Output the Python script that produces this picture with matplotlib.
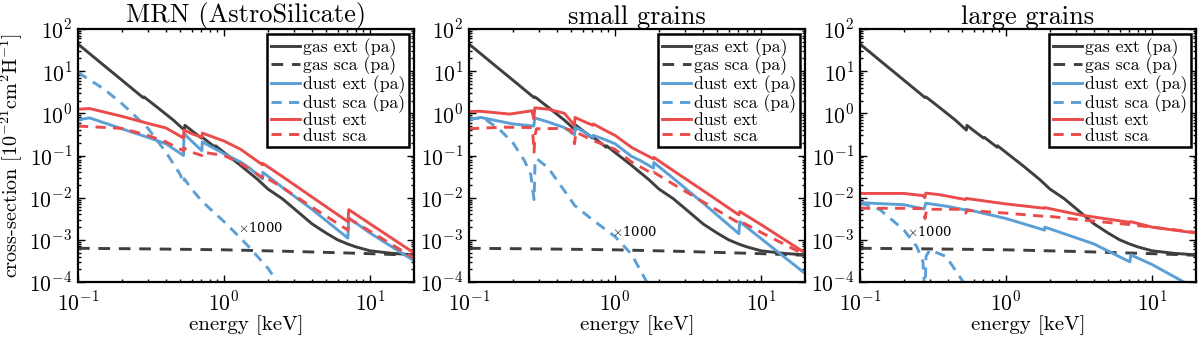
import math
import matplotlib
matplotlib.use("Agg")
import matplotlib.pyplot as plt
from matplotlib.ticker import LogLocator, FuncFormatter, NullFormatter

plt.rcParams['font.family'] = ['cmr10', 'DejaVu Serif']
plt.rcParams['mathtext.fontset'] = 'cm'
plt.rcParams['axes.unicode_minus'] = False
plt.rcParams['axes.formatter.use_mathtext'] = True

# ---------------- data ----------------
titles = ["MRN (AstroSilicate)", "small grains", "large grains"]
labels = ["gas ext (pa)", "gas sca (pa)", "dust ext (pa)", "dust sca (pa)", "dust ext", "dust sca"]

gas_ext_E = [0.1, 0.15, 0.2, 0.279, 0.283, 0.35, 0.45, 0.535, 0.54, 0.6, 0.7, 0.71, 0.8, 0.87, 0.875,
             1.0, 1.3, 1.7, 2.0, 2.5, 3.0, 4.0, 5.0, 6.0, 7.0, 8.0, 10.0, 14.0, 20.0]
gas_ext_V = [44, 13.8, 6.1, 2.36, 2.45, 1.38, 0.69, 0.40, 0.52, 0.39, 0.26, 0.27, 0.196, 0.157, 0.17,
             0.118, 0.058, 0.027, 0.016, 0.0095, 5.6e-3, 2.4e-3, 1.45e-3, 1.0e-3, 8.0e-4, 6.8e-4, 5.5e-4, 4.8e-4, 4.4e-4]
gas_sca_E = [0.1, 0.3, 1.0, 3.0, 10.0, 20.0]
gas_sca_V = [6.3e-4, 6.1e-4, 5.8e-4, 5.3e-4, 4.7e-4, 4.3e-4]

# MRN (AstroSilicate)
mrn_ext_pa_E = [0.1, 0.12, 0.2, 0.3, 0.4, 0.528, 0.532, 0.6, 0.705, 0.71, 0.85, 1.0, 1.3, 1.5, 1.835, 1.845,
                2.5, 4.0, 7.05, 7.15, 10.0, 20.0]
mrn_ext_pa_V = [0.70, 0.78, 0.43, 0.27, 0.19, 0.10, 0.33, 0.22, 0.13, 0.21, 0.15, 0.11, 0.07, 0.05, 0.028, 0.040,
                0.0177, 5.3e-3, 1.1e-3, 3.3e-3, 1.45e-3, 3.2e-4]
mrn_sca_pa_E = [0.1, 0.15, 0.2, 0.3, 0.4, 0.5, 0.528, 0.535, 0.6, 0.7, 0.8, 1.0, 1.25, 1.5, 2.0, 2.5]
mrn_sca_pa_V = [9.3, 3.8, 1.7, 0.45, 0.12, 0.036, 0.022, 0.028, 0.016, 8.5e-3, 5.5e-3, 2.7e-3, 1.25e-3, 6.5e-4, 2.1e-4, 7e-5]
mrn_ext_E = [0.1, 0.12, 0.2, 0.3, 0.4, 0.528, 0.532, 0.6, 0.705, 0.71, 0.85, 1.0, 1.3, 1.835, 1.845,
             2.5, 4.0, 7.05, 7.15, 10.0, 20.0]
mrn_ext_V = [1.25, 1.3, 0.85, 0.58, 0.45, 0.26, 0.40, 0.33, 0.27, 0.34, 0.27, 0.22, 0.14, 0.06, 0.065,
             0.032, 0.0104, 2.7e-3, 5.2e-3, 2.4e-3, 4.9e-4]
mrn_sca_E = [0.1, 0.2, 0.3, 0.4, 0.528, 0.532, 0.6, 0.705, 0.71, 1.0, 1.3, 1.835, 1.845, 2.5, 4.0, 7.05, 7.15, 10.0, 20.0]
mrn_sca_V = [0.50, 0.44, 0.30, 0.21, 0.13, 0.15, 0.12, 0.10, 0.12, 0.10, 0.065, 0.030, 0.033, 0.0176, 6.0e-3,
             1.7e-3, 3.2e-3, 1.6e-3, 3.7e-4]

# small grains
sm_ext_pa_E = [0.1, 0.12, 0.2, 0.278, 0.282, 0.35, 0.45, 0.528, 0.532, 0.6, 0.705, 0.71, 0.85, 1.0, 1.3, 1.5,
               1.835, 1.845, 2.5, 4.0, 7.05, 7.15, 10.0, 20.0]
sm_ext_pa_V = [0.70, 0.80, 0.56, 0.50, 0.78, 0.62, 0.46, 0.31, 0.47, 0.38, 0.27, 0.30, 0.24, 0.19, 0.095, 0.075,
               0.05, 0.068, 0.029, 7.5e-3, 1.4e-3, 2.7e-3, 1.07e-3, 1.6e-4]
sm_sca_pa_E = [0.1, 0.125, 0.16, 0.2, 0.24, 0.265, 0.279, 0.283, 0.29, 0.35, 0.45, 0.53, 0.7, 1.0, 1.3, 1.65]
sm_sca_pa_V = [0.74, 0.78, 0.43, 0.2, 0.075, 0.035, 9e-3, 0.06, 0.085, 0.05, 0.0146, 6.5e-3, 3e-3, 1.2e-3, 4.5e-4, 1e-4]
sm_ext_E = [0.1, 0.12, 0.19, 0.27, 0.278, 0.282, 0.35, 0.45, 0.528, 0.532, 0.6, 0.705, 0.71, 0.85, 1.0, 1.3,
            1.835, 1.845, 2.5, 4.0, 7.05, 7.15, 10.0, 20.0]
sm_ext_V = [1.1, 1.12, 0.96, 1.15, 0.74, 1.35, 1.25, 1.0, 0.52, 0.80, 0.66, 0.52, 0.56, 0.40, 0.30, 0.155,
            0.083, 0.09, 0.044, 0.0148, 3.9e-3, 4.7e-3, 2.3e-3, 4.9e-4]
sm_sca_E = [0.1, 0.17, 0.27, 0.274, 0.279, 0.283, 0.29, 0.45, 0.5, 0.528, 0.54, 0.6, 0.7, 1.0, 1.3,
            1.835, 1.845, 2.5, 4.0, 7.05, 7.15, 10.0, 20.0]
sm_sca_V = [0.43, 0.47, 0.46, 0.30, 0.12, 0.30, 0.43, 0.44, 0.40, 0.19, 0.36, 0.30, 0.23, 0.14, 0.07,
            0.036, 0.04, 0.021, 8e-3, 2.5e-3, 2.8e-3, 1.5e-3, 4.4e-4]

# large grains
lg_ext_pa_E = [0.1, 0.2, 0.275, 0.282, 0.4, 0.528, 0.535, 1.0, 1.835, 1.845, 4.0, 7.05, 7.15, 10.0, 16.5, 20.0]
lg_ext_pa_V = [7.6e-3, 6.8e-3, 5.4e-3, 7.4e-3, 6.2e-3, 5.1e-3, 5.3e-3, 3.2e-3, 1.7e-3, 2.0e-3, 8e-4, 3e-4, 4.4e-4,
               2.6e-4, 1e-4, 7.5e-5]
lg_sca_pa_E = [0.1, 0.137, 0.2, 0.245, 0.27, 0.279, 0.283, 0.3, 0.39, 0.48, 0.52]
lg_sca_pa_V = [7.6e-3, 5.2e-3, 1.7e-3, 6.9e-4, 3e-4, 5e-5, 4e-4, 5.8e-4, 4e-4, 1.35e-4, 9e-5]
lg_ext_E = [0.1, 0.2, 0.27, 0.278, 0.282, 0.35, 0.528, 0.532, 1.0, 1.835, 1.845, 3.2, 7.05, 7.15, 10.0, 20.0]
lg_ext_V = [0.0126, 0.0126, 0.0112, 0.0100, 0.0128, 0.0118, 9.0e-3, 9.6e-3, 7.1e-3, 5.6e-3, 5.8e-3, 3.9e-3,
            2.6e-3, 2.7e-3, 2.0e-3, 1.45e-3]
lg_sca_E = [0.1, 0.2, 0.27, 0.279, 0.286, 0.5, 0.53, 0.54, 1.0, 1.835, 1.845, 3.2, 7.0, 10.0, 20.0]
lg_sca_V = [5.6e-3, 5.6e-3, 5.5e-3, 3.2e-3, 5.3e-3, 5.3e-3, 4.3e-3, 5.0e-3, 4.3e-3, 3.6e-3, 3.7e-3, 3.0e-3,
            2.3e-3, 2.0e-3, 1.5e-3]

panels = [
    (mrn_ext_pa_E, mrn_ext_pa_V, mrn_sca_pa_E, mrn_sca_pa_V, mrn_ext_E, mrn_ext_V, mrn_sca_E, mrn_sca_V),
    (sm_ext_pa_E, sm_ext_pa_V, sm_sca_pa_E, sm_sca_pa_V, sm_ext_E, sm_ext_V, sm_sca_E, sm_sca_V),
    (lg_ext_pa_E, lg_ext_pa_V, lg_sca_pa_E, lg_sca_pa_V, lg_ext_E, lg_ext_V, lg_sca_E, lg_sca_V),
]
annot_pos = [(1.25, 1.9e-3), (0.95, 1.55e-3), (0.21, 1.55e-3)]
annot_text = r"$\times$1000"

# ---------------- styling ----------------
GRAY = "#3f3f3f"
BLUE = "#5b9fd6"
RED = "#ea4b4b"
LW = 2.1

fig = plt.figure(figsize=(12, 3.38), dpi=100)
lefts = [78, 469, 860]
W, top, bot = 336, 29, 282


def fmt(v, pos):
    e = int(round(math.log10(v)))
    return r"$10^{%d}$" % e


for i, (ax_l, data) in enumerate(zip(lefts, panels)):
    ax = fig.add_axes([ax_l / 1200, 1 - bot / 338, W / 1200, (bot - top) / 338])
    ext_pa_E, ext_pa_V, sca_pa_E, sca_pa_V, ext_E, ext_V, sca_E, sca_V = data
    ax.plot(gas_ext_E, gas_ext_V, color=GRAY, lw=LW, label=labels[0])
    ax.plot(gas_sca_E, gas_sca_V, color=GRAY, lw=LW, ls=(0, (4, 3)), label=labels[1])
    ax.plot(ext_pa_E, ext_pa_V, color=BLUE, lw=LW, label=labels[2])
    ax.plot(sca_pa_E, sca_pa_V, color=BLUE, lw=LW, ls=(0, (3.5, 2.5)), label=labels[3])
    ax.plot(ext_E, ext_V, color=RED, lw=LW, label=labels[4])
    ax.plot(sca_E, sca_V, color=RED, lw=LW, ls=(0, (3.5, 2.5)), label=labels[5])
    ax.set_xscale('log')
    ax.set_yscale('log')
    ax.set_xlim(0.1, 20)
    ax.set_ylim(1e-4, 1e2)
    ax.xaxis.set_major_locator(LogLocator(base=10, numticks=10))
    ax.yaxis.set_major_locator(LogLocator(base=10, numticks=10))
    ax.xaxis.set_minor_locator(LogLocator(base=10, subs=range(2, 10), numticks=20))
    ax.yaxis.set_minor_locator(LogLocator(base=10, subs=range(2, 10), numticks=20))
    ax.xaxis.set_major_formatter(FuncFormatter(fmt))
    ax.yaxis.set_major_formatter(FuncFormatter(fmt))
    ax.xaxis.set_minor_formatter(NullFormatter())
    ax.yaxis.set_minor_formatter(NullFormatter())
    ax.tick_params(which='both', direction='in', top=True, right=True, labelsize=15.5, width=1.0)
    ax.tick_params(which='major', length=5)
    ax.tick_params(axis='x', which='major', pad=6)
    ax.tick_params(axis='y', which='major', pad=4)
    ax.tick_params(which='minor', length=2.5)
    for s in ax.spines.values():
        s.set_linewidth(1.6)
    ax.set_title(titles[i], fontsize=19, pad=3)
    ax.set_xlabel("energy [keV]", fontsize=15, labelpad=1)
    if i == 0:
        ax.set_ylabel(r"cross-section $[10^{-21}\mathrm{cm}^2\mathrm{H}^{-1}]$", fontsize=14.5)
        ax.yaxis.set_label_coords(-0.158, 0.5)
    ax.text(annot_pos[i][0], annot_pos[i][1], annot_text, fontsize=9.5, ha='left', va='center',
            family='DejaVu Serif')
    leg = ax.legend(loc='upper right', fontsize=12.8, frameon=True, fancybox=False, framealpha=1,
                    edgecolor='black', handlelength=1.65, handletextpad=0.15, labelspacing=0.0,
                    borderpad=0.2, borderaxespad=0.3)
    leg.get_frame().set_linewidth(1.8)

fig.savefig("out.png", dpi=100)
